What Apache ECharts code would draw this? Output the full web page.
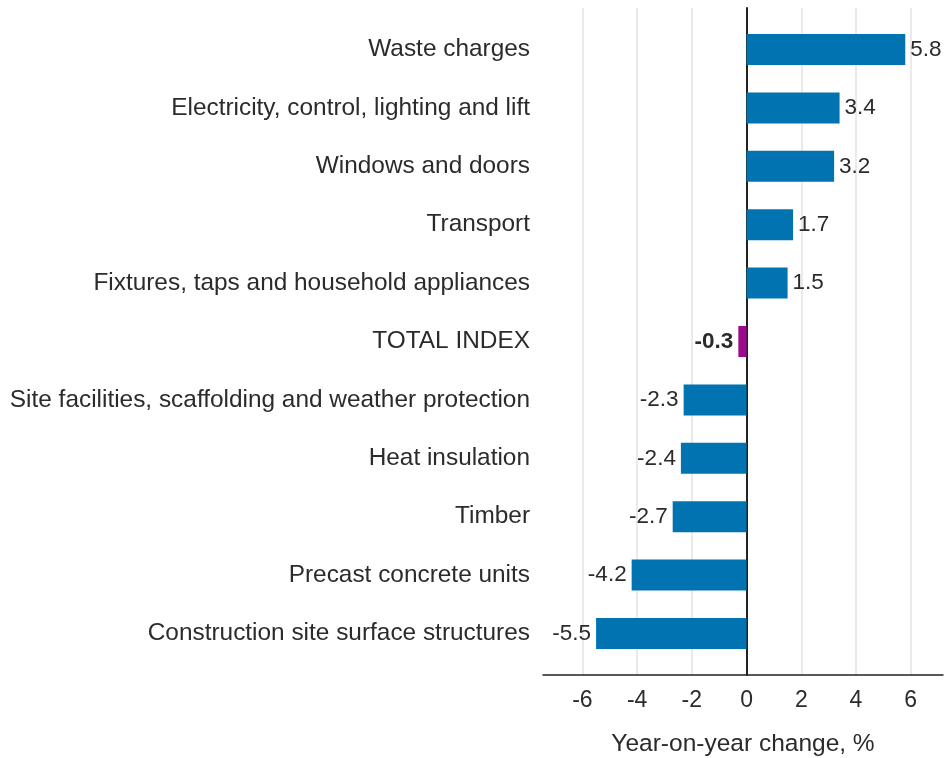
<!DOCTYPE html>
<html>
<head>
<meta charset="utf-8">
<script src="https://cdn.jsdelivr.net/npm/echarts@6/dist/echarts.min.js"></script>
<style>
html,body{margin:0;padding:0;background:#fff;}
#chart{width:944px;height:758px;}
</style>
</head>
<body>
<div id="chart"></div>
<script>
var categories = [
  "Waste charges",
  "Electricity, control, lighting and lift",
  "Windows and doors",
  "Transport",
  "Fixtures, taps and household appliances",
  "TOTAL INDEX",
  "Site facilities, scaffolding and weather protection",
  "Heat insulation",
  "Timber",
  "Precast concrete units",
  "Construction site surface structures"
];
var values = [5.8, 3.4, 3.2, 1.7, 1.5, -0.3, -2.3, -2.4, -2.7, -4.2, -5.5];
var highlightCategory = "TOTAL INDEX";
var tickValues = [-6, -4, -2, 0, 2, 4, 6];
var axisTitle = "Year-on-year change, %";

var FONT = "Liberation Sans, Arial, sans-serif";
var BLUE = "#0073b0";
var PURPLE = "#9c0a8e";
var TEXT = "#2b2b2b";

var seriesData = values.map(function (v, i) {
  var isTotal = categories[i] === highlightCategory;
  return {
    value: v,
    itemStyle: { color: isTotal ? PURPLE : BLUE },
    label: {
      position: v >= 0 ? "right" : "left",
      fontWeight: isTotal ? "bold" : "normal"
    }
  };
});

var chart = echarts.init(document.getElementById("chart"), null, { renderer: "canvas" });
chart.setOption({
  animation: false,
  backgroundColor: "#ffffff",
  textStyle: { fontFamily: FONT },
  grid: [
    { left: 543, right: 1, top: 8, bottom: 83, containLabel: false, outerBoundsMode: "none" },
    { left: 543, right: 1, top: 20.3, bottom: 95.3, containLabel: false, outerBoundsMode: "none" }
  ],
  xAxis: [
    {
      gridIndex: 0,
      type: "value",
      min: -7.44,
      max: 7.18,
      axisLine: { show: true, onZero: false, lineStyle: { color: "#222", width: 1.5 } },
      axisTick: { show: false, customValues: tickValues },
      axisLabel: { customValues: tickValues, fontSize: 23, color: TEXT, margin: 14, fontFamily: FONT },
      splitLine: { show: true, lineStyle: { color: "#e3e3e3", width: 1.5 } },
      name: axisTitle,
      nameLocation: "middle",
      nameGap: 57,
      nameTextStyle: { fontSize: 24.5, color: TEXT, fontFamily: FONT }
    },
    {
      gridIndex: 1,
      type: "value",
      min: -7.44,
      max: 7.18,
      show: false
    }
  ],
  yAxis: [
    {
      gridIndex: 0,
      type: "value",
      min: 0,
      max: 1,
      axisLine: { show: true, onZero: true, lineStyle: { color: "#222", width: 2 } },
      axisTick: { show: false },
      axisLabel: { show: false },
      splitLine: { show: false }
    },
    {
      gridIndex: 1,
      type: "category",
      inverse: true,
      data: categories,
      axisLine: { show: false },
      axisTick: { show: false },
      splitLine: { show: false },
      axisLabel: { fontSize: 24.4, color: TEXT, margin: 13, fontFamily: FONT }
    }
  ],
  series: [
    {
      type: "bar",
      xAxisIndex: 1,
      yAxisIndex: 1,
      data: seriesData,
      barWidth: 31,
      label: {
        show: true,
        fontSize: 22.5,
        color: TEXT,
        distance: 5,
        fontFamily: FONT,
        formatter: function (p) { return p.value.toFixed(1); }
      },
      z: 1
    }
  ]
});
</script>
</body>
</html>
